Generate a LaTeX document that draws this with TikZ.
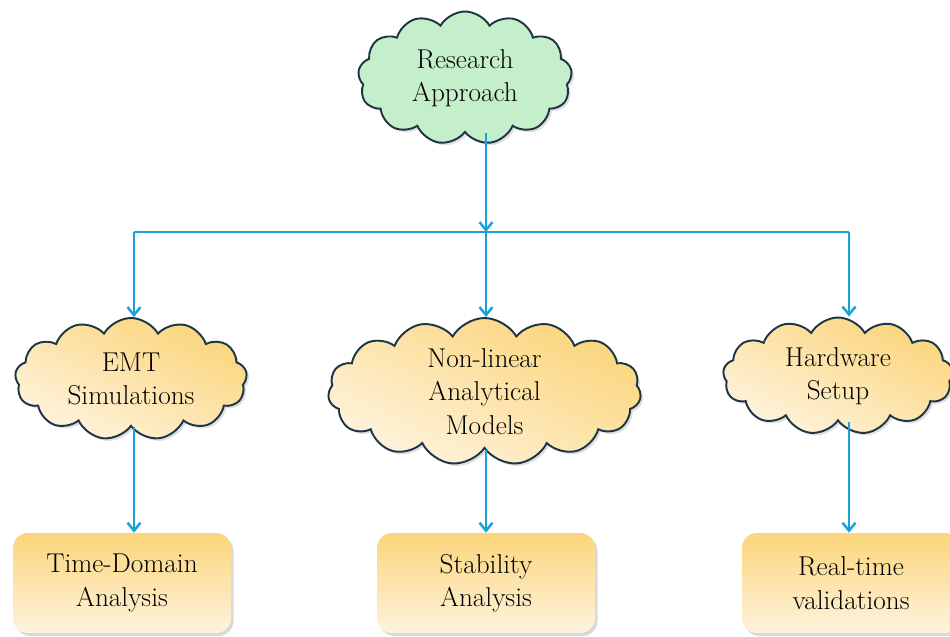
\documentclass[tikz,border=0pt]{standalone}
\usepackage{fontspec}
\usetikzlibrary{shapes.symbols, arrows.meta, shadows}

\definecolor{linkblue}{HTML}{1BA1DA}
\definecolor{cloudline}{HTML}{1E3545}
\definecolor{goldtop}{HTML}{FBD57A}
\definecolor{goldlow}{HTML}{FEF3DE}
\definecolor{mint}{HTML}{C4EFCA}

\tikzset{
	puff/.style={cloud, cloud puffs=13, cloud puff arc=120, cloud ignores aspect, draw=cloudline, line width=1.1pt, align=center, inner sep=0pt, font=\fontsize{15.5}{19}\selectfont, drop shadow={opacity=0.25, shadow xshift=0.05cm, shadow yshift=-0.05cm}},
	goldpuff/.style={puff, top color=goldtop, bottom color=goldlow, shading angle=-25},
	result/.style={rounded corners=0.3cm, minimum width=4.36cm, minimum height=2cm, top color=goldtop, bottom color=goldlow, align=center, font=\fontsize{15.5}{19}\selectfont, drop shadow={opacity=0.3, shadow xshift=0.05cm, shadow yshift=-0.06cm}},
	link/.style={draw=linkblue, line width=1.4pt},
	tip/.style={-{Straight Barb[length=0.16cm, width=0.26cm, line width=1.4pt]}}
}

\begin{document}
\begin{tikzpicture}
		\useasboundingbox (0,0) rectangle (19,-12.72);

		% Draw the top cloud
		\node[puff, fill=mint, minimum width=4.28cm, minimum height=2.66cm] (research) at (9.3,-1.56) {Research\\Approach};

		% Draw the three method clouds
		\node[goldpuff, minimum width=4.64cm, minimum height=2.44cm] (emt) at (2.62,-7.58) {EMT\\Simulations};
		\node[goldpuff, cloud puffs=15, minimum width=6.26cm, minimum height=2.94cm] (models) at (9.69,-7.83) {Non-linear\\Analytical\\Models};
		\node[goldpuff, minimum width=4.6cm, minimum height=2.34cm] (hardware) at (16.76,-7.52) {Hardware\\Setup};

		% Draw the result boxes
		\node[result] (timedomain) at (2.44,-11.66) {Time-Domain\\Analysis};
		\node[result] (stability) at (9.72,-11.66) {Stability\\Analysis};
		\node[result] (realtime) at (17.02,-11.66) {Real-time\\validations};

		% Draw the branching connectors
		\coordinate (hub) at (9.72,-4.64);
		\coordinate (west) at (2.68,-4.64);
		\coordinate (east) at (16.98,-4.64);

		\draw[link, tip] (research.south -| hub) -- (hub);
		\draw[link] (west) -- (east);
		\draw[link, tip] (west) -- (emt.north -| west);
		\draw[link, tip] (hub) -- (models.north -| hub);
		\draw[link, tip] (east) -- (hardware.north -| east);

		\draw[link, tip] (emt.south -| west) -- (timedomain.north -| west);
		\draw[link, tip] (models.south -| hub) -- (stability.north -| hub);
		\draw[link, tip] (hardware.south -| east) -- (realtime.north -| east);

	\end{tikzpicture}
\end{document}
